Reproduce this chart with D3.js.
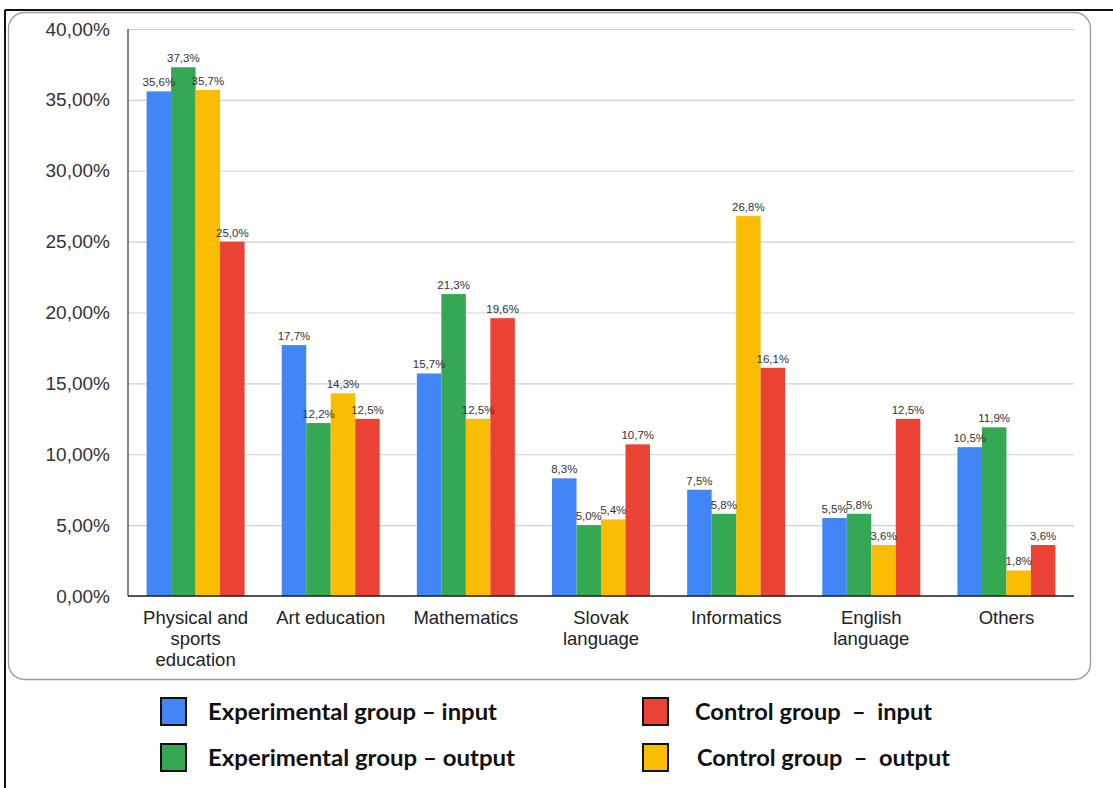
<!DOCTYPE html>
<html>
<head>
<meta charset="utf-8">
<script src="https://cdn.jsdelivr.net/npm/d3@7"></script>
<style>
  html, body { margin: 0; padding: 0; background: #fff; }
  svg { display: block; }
</style>
</head>
<body>
<svg id="chart" width="1113" height="788"></svg>
<script>
// Subjects on the x axis
const categories = [
  ["Physical and", "sports", "education"],
  ["Art education"],
  ["Mathematics"],
  ["Slovak", "language"],
  ["Informatics"],
  ["English", "language"],
  ["Others"]
];
const categoryKeys = categories.map(c => c.join(" "));

// Series (percent of respondents)
const seriesNames = [
  "Experimental group – input",
  "Experimental group – output",
  "Control group – output",
  "Control group – input"
];
const expInput  = [35.6, 17.7, 15.7, 8.3, 7.5, 5.5, 10.5];
const expOutput = [37.3, 12.2, 21.3, 5.0, 5.8, 5.8, 11.9];
const ctrOutput = [35.7, 14.3, 12.5, 5.4, 26.8, 3.6, 1.8];
const ctrInput  = [25.0, 12.5, 19.6, 10.7, 16.1, 12.5, 3.6];
const seriesValues = [expInput, expOutput, ctrOutput, ctrInput];
const seriesColors = ["#4285F4", "#34A853", "#FBBC04", "#EA4335"];

const yTicks = [0, 5, 10, 15, 20, 25, 30, 35, 40];

const svg = d3.select("#chart");

// Outer frame
svg.append("line").attr("x1", 5).attr("x2", 1113).attr("y1", 10).attr("y2", 10)
  .attr("stroke", "#111").attr("stroke-width", 2);
svg.append("line").attr("x1", 5).attr("x2", 5).attr("y1", 10).attr("y2", 788)
  .attr("stroke", "#111").attr("stroke-width", 2);

// Rounded chart panel
svg.append("rect").attr("x", 8.5).attr("y", 12.5).attr("width", 1082).attr("height", 667)
  .attr("rx", 16).attr("ry", 16)
  .attr("fill", "#fff").attr("stroke", "#9a9a9a").attr("stroke-width", 1.3);

const plot = { left: 128, right: 1074, top: 29, bottom: 596 };

const y = d3.scaleLinear().domain([0, 40]).range([plot.bottom, plot.top]);
const x = d3.scaleBand().domain(categoryKeys).range([plot.left, plot.right])
  .paddingInner(0.275).paddingOuter(0.1375);
const xs = d3.scaleBand().domain(d3.range(seriesNames.length)).range([0, x.bandwidth()]);

const fmtTick = d => d3.format(".2f")(d).replace(".", ",") + "%";
const fmtVal = d => d3.format(".1f")(d).replace(".", ",") + "%";

// Gridlines + y labels
const yAxis = d3.axisLeft(y).tickValues(yTicks).tickFormat(fmtTick)
  .tickSize(-(plot.right - plot.left)).tickPadding(18);
const gy = svg.append("g").attr("transform", `translate(${plot.left},0)`).call(yAxis);
gy.select(".domain").remove();
gy.selectAll(".tick line").attr("stroke", "#cfcfcf").attr("stroke-width", 1.2);
gy.selectAll(".tick text")
  .attr("font-family", "'Liberation Sans', Arial, sans-serif")
  .attr("font-size", 19).attr("fill", "#333");

// Left axis line
svg.append("line").attr("x1", plot.left).attr("x2", plot.left)
  .attr("y1", plot.top).attr("y2", plot.bottom)
  .attr("stroke", "#333").attr("stroke-width", 1.2);

// Bars
const groups = svg.append("g").selectAll("g").data(categoryKeys).join("g")
  .attr("transform", d => `translate(${x(d)},0)`);

groups.each(function(cat, ci) {
  const g = d3.select(this);
  seriesValues.forEach((vals, si) => {
    const v = vals[ci];
    g.append("rect")
      .attr("x", xs(si)).attr("width", xs.bandwidth())
      .attr("y", y(v)).attr("height", y(0) - y(v))
      .attr("fill", seriesColors[si]);
  });
  seriesValues.forEach((vals, si) => {
    const v = vals[ci];
    g.append("text")
      .attr("x", xs(si) + xs.bandwidth() / 2)
      .attr("y", y(v) - 5)
      .attr("text-anchor", "middle")
      .attr("font-family", "'Liberation Sans', Arial, sans-serif")
      .attr("font-size", 11.5).attr("fill", "#333")
      .text(fmtVal(v));
  });
});

// Baseline
svg.append("line").attr("x1", plot.left).attr("x2", plot.right)
  .attr("y1", y(0)).attr("y2", y(0)).attr("stroke", "#222").attr("stroke-width", 1.5);

// Category labels
const catLabels = svg.append("g").selectAll("text").data(categories).join("text")
  .attr("text-anchor", "middle")
  .attr("font-family", "'Liberation Sans', Arial, sans-serif")
  .attr("font-size", 18.5).attr("fill", "#222")
  .attr("transform", (d, i) => `translate(${x(categoryKeys[i]) + x.bandwidth() / 2},624)`);
catLabels.selectAll("tspan").data(d => d).join("tspan")
  .attr("x", 0).attr("dy", (d, i) => i === 0 ? 0 : 21).text(d => d);

// Legend
const legendItems = [
  { name: "Experimental group – input",  color: seriesColors[0], x: 160, y: 697, tx: 208, w: 289 },
  { name: "Experimental group – output", color: seriesColors[1], x: 160, y: 743, tx: 208, w: 307 },
  { name: "Control group  –  input",     color: seriesColors[3], x: 642, y: 697, tx: 695, w: 237 },
  { name: "Control group  –  output",    color: seriesColors[2], x: 642, y: 743, tx: 697, w: 253 }
];
const lg = svg.append("g").selectAll("g").data(legendItems).join("g");
lg.append("rect")
  .attr("x", d => d.x + 1).attr("y", d => d.y + 1)
  .attr("width", 25).attr("height", 27)
  .attr("fill", d => d.color).attr("stroke", "#111").attr("stroke-width", 2);
lg.append("text")
  .attr("x", d => d.tx).attr("y", d => d.y + 23)
  .attr("font-family", "Lato, 'Open Sans', sans-serif")
  .attr("font-weight", "bold").attr("font-size", 22.5).attr("fill", "#111")
  .attr("textLength", d => d.w).attr("lengthAdjust", "spacingAndGlyphs")
  .attr("xml:space", "preserve").style("white-space", "pre")
  .text(d => d.name);
</script>
</body>
</html>
